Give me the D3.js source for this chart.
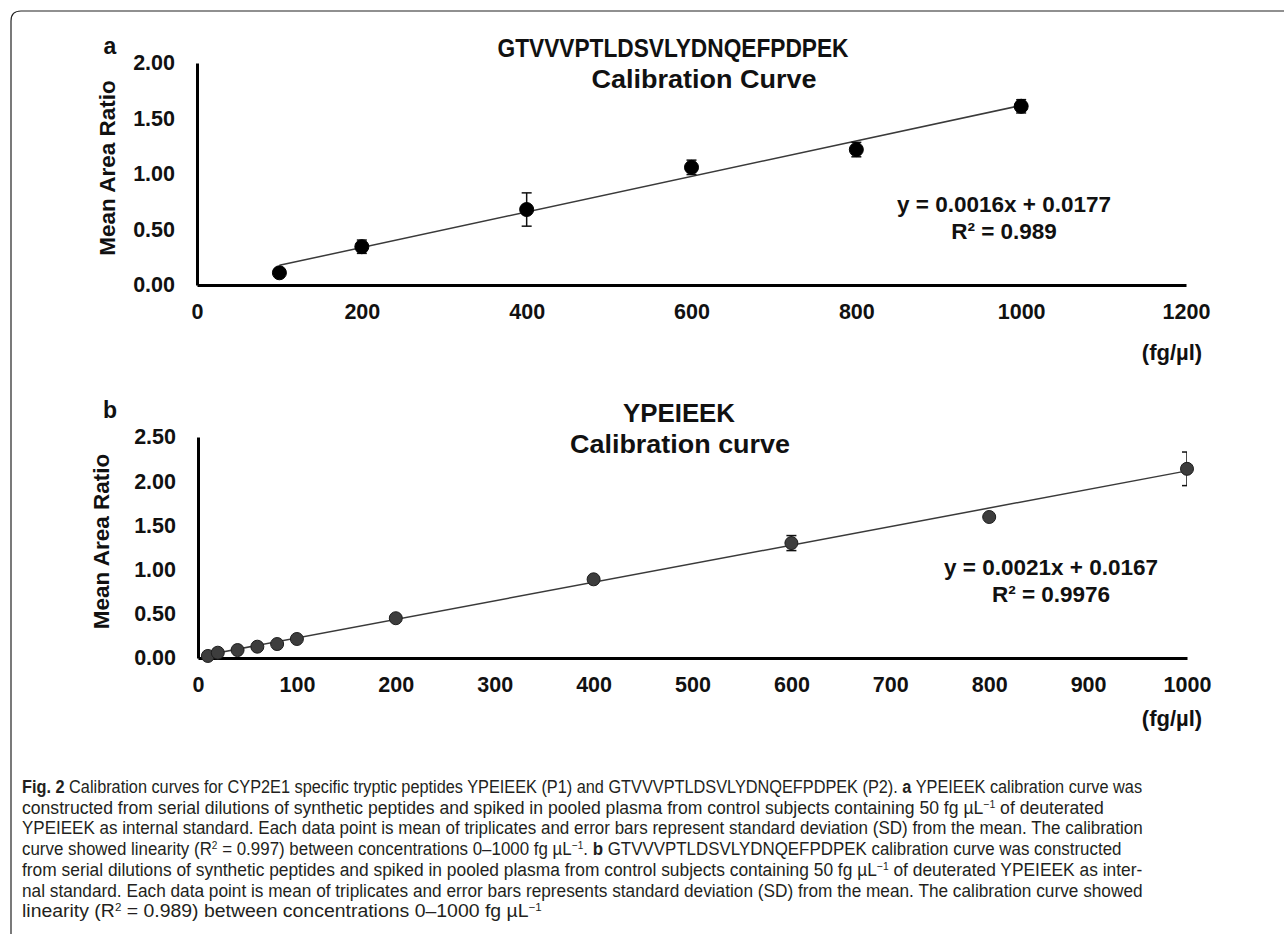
<!DOCTYPE html>
<html>
<head>
<meta charset="utf-8">
<script src="https://cdn.jsdelivr.net/npm/d3@7"></script>
<style>
  body { margin: 0; background: #fff; }
  svg { display: block; }
  .chart text { font-family: "Liberation Sans", Arial, sans-serif; font-weight: bold; fill: #111; }
  .caption text { font-family: "Liberation Sans", Arial, sans-serif; fill: #231f20; }
</style>
</head>
<body>
<svg id="fig" width="1284" height="934"></svg>
<script>
// panel a: GTVVVPTLDSVLYDNQEFPDPEK
const aConc = [100, 200, 400, 600, 800, 1000];
const aMean = [0.11, 0.345, 0.68, 1.06, 1.22, 1.61];
const aSD = [0.02, 0.06, 0.15, 0.065, 0.065, 0.06];
const aSlope = 0.0016, aIntercept = 0.0177;
const aXTicks = [0, 200, 400, 600, 800, 1000, 1200];
const aYTicks = [0, 0.5, 1, 1.5, 2];

// panel b: YPEIEEK
const bConc = [10, 20, 40, 60, 80, 100, 200, 400, 600, 800, 1000];
const bMean = [0.023, 0.06, 0.09, 0.128, 0.158, 0.215, 0.45, 0.89, 1.30, 1.595, 2.14];
const bSD = [0.01, 0.01, 0.01, 0.015, 0.015, 0.02, 0.02, 0.02, 0.085, 0.03, 0.19];
const bSlope = 0.0021, bIntercept = 0.0167;
const bXTicks = [0, 100, 200, 300, 400, 500, 600, 700, 800, 900, 1000];
const bYTicks = [0, 0.5, 1, 1.5, 2, 2.5];

const svg = d3.select("#fig");

// rounded frame, open on the right and bottom
svg.append("path")
    .attr("d", "M11,934 V21 Q11,11 21,11 H1284")
    .attr("fill", "none")
    .attr("stroke", "#222")
    .attr("stroke-width", 1.2);

function panel(o) {
    const g = svg.append("g").attr("class", "chart");
    const x = d3.scaleLinear().domain([0, o.xTicks[o.xTicks.length - 1]]).range(o.xRange);
    const y = d3.scaleLinear().domain([0, o.yTicks[o.yTicks.length - 1]]).range(o.yRange);

    // axes
    const yAxis = g.append("g")
        .attr("transform", `translate(${o.xRange[0]},0)`)
        .call(d3.axisLeft(y).tickValues(o.yTicks).tickFormat(d3.format(".2f")).tickSize(0).tickPadding(22));
    const xAxis = g.append("g")
        .attr("transform", `translate(0,${o.yRange[0]})`)
        .call(d3.axisBottom(x).tickValues(o.xTicks).tickFormat(d3.format("d")).tickSize(0).tickPadding(19));
    [yAxis, xAxis].forEach(ax => {
        ax.select(".domain").attr("stroke", "#000").attr("stroke-width", 3);
        ax.selectAll("text").style("font-size", "21.5px").style("font-family", "Liberation Sans, Arial, sans-serif")
            .style("font-weight", "bold").attr("fill", "#111");
    });

    // trendline over data range
    const ext = d3.extent(o.conc);
    g.append("line")
        .attr("x1", x(ext[0])).attr("y1", y(o.slope * ext[0] + o.intercept))
        .attr("x2", x(ext[1])).attr("y2", y(o.slope * ext[1] + o.intercept))
        .attr("stroke", "#3a3a3a").attr("stroke-width", 1.5);

    // error bars, clipped to plot area
    const clipId = "clip-" + o.name;
    g.append("clipPath").attr("id", clipId).append("rect")
        .attr("x", o.xRange[0]).attr("y", 0)
        .attr("width", o.xRange[1] - o.xRange[0]).attr("height", o.yRange[0] + 20);
    const eb = g.append("g").attr("clip-path", `url(#${clipId})`)
        .attr("stroke", "#111").attr("stroke-width", 1.5);
    o.conc.forEach((c, i) => {
        const cx = x(c), lo = y(o.mean[i] - o.sd[i]), hi = y(o.mean[i] + o.sd[i]);
        eb.append("line").attr("x1", cx).attr("x2", cx).attr("y1", lo).attr("y2", hi);
        eb.append("line").attr("x1", cx - 5).attr("x2", cx + 5).attr("y1", lo).attr("y2", lo);
        eb.append("line").attr("x1", cx - 5).attr("x2", cx + 5).attr("y1", hi).attr("y2", hi);
    });

    // markers
    g.append("g").selectAll("circle")
        .data(o.conc)
        .join("circle")
        .attr("cx", d => x(d))
        .attr("cy", (d, i) => y(o.mean[i]))
        .attr("r", o.r)
        .attr("fill", o.fill)
        .attr("stroke", o.stroke)
        .attr("stroke-width", 1);

    // panel letter
    g.append("text").attr("x", 110).attr("y", o.letterY)
        .attr("text-anchor", "middle").style("font-size", "23px").text(o.name);

    // y title
    g.append("text")
        .attr("transform", `translate(${o.yTitleX},${(o.yRange[0] + o.yRange[1]) / 2 - 6}) rotate(-90)`)
        .attr("text-anchor", "middle").attr("dy", "0.35em")
        .style("font-size", "22.5px").text("Mean Area Ratio");

    // chart title
    o.title.forEach(t => {
        g.append("text").attr("x", t.x).attr("y", t.y)
            .attr("text-anchor", "middle")
            .attr("textLength", t.w).attr("lengthAdjust", "spacingAndGlyphs")
            .style("font-size", "25px").text(t.text);
    });

    // equation
    g.append("text").attr("x", o.eqX).attr("y", o.eqY)
        .attr("text-anchor", "middle").style("font-size", "22.5px")
        .text(`y = ${o.slope.toFixed(4)}x + ${o.intercept.toFixed(4)}`);
    g.append("text").attr("x", o.eqX).attr("y", o.eqY + 27)
        .attr("text-anchor", "middle").style("font-size", "22.5px")
        .text(`R² = ${o.r2}`);

    // unit
    g.append("text").attr("x", 1172).attr("y", o.unitY)
        .attr("text-anchor", "middle").style("font-size", "22px").text("(fg/µl)");
}

panel({
    name: "a", conc: aConc, mean: aMean, sd: aSD, slope: aSlope, intercept: aIntercept, r2: "0.989",
    xTicks: aXTicks, yTicks: aYTicks, xRange: [197, 1186], yRange: [285, 63],
    r: 7, fill: "#000", stroke: "#000",
    letterY: 54, yTitleX: 107,
    title: [{ text: "GTVVVPTLDSVLYDNQEFPDPEK", x: 673, y: 57, w: 351 },
            { text: "Calibration Curve", x: 704, y: 88, w: 225 }],
    eqX: 1004, eqY: 212, unitY: 360
});

panel({
    name: "b", conc: bConc, mean: bMean, sd: bSD, slope: bSlope, intercept: bIntercept, r2: "0.9976",
    xTicks: bXTicks, yTicks: bYTicks, xRange: [198, 1187], yRange: [658, 437],
    r: 6.5, fill: "#3d3d3d", stroke: "#1e1e1e",
    letterY: 418, yTitleX: 101,
    title: [{ text: "YPEIEEK", x: 679, y: 422, w: 112 },
            { text: "Calibration curve", x: 680, y: 453, w: 220 }],
    eqX: 1051, eqY: 575, unitY: 726
});

// caption lines: segments of [text, style] where style b = bold, s = superscript
const captionLines = [
    [["Fig. 2", "b"], ["  Calibration curves for CYP2E1 specific tryptic peptides YPEIEEK (P1) and GTVVVPTLDSVLYDNQEFPDPEK (P2). "], ["a", "b"], [" YPEIEEK calibration curve was"]],
    [["constructed from serial dilutions of synthetic peptides and spiked in pooled plasma from control subjects containing 50 fg µL"], ["−1", "s"], [" of deuterated"]],
    [["YPEIEEK as internal standard. Each data point is mean of triplicates and error bars represent standard deviation (SD) from the mean. The calibration"]],
    [["curve showed linearity (R"], ["2", "s"], [" = 0.997) between concentrations 0–1000 fg µL"], ["−1", "s"], [". "], ["b", "b"], [" GTVVVPTLDSVLYDNQEFPDPEK calibration curve was constructed"]],
    [["from serial dilutions of synthetic peptides and spiked in pooled plasma from control subjects containing 50 fg µL"], ["−1", "s"], [" of deuterated YPEIEEK as inter-"]],
    [["nal standard. Each data point is mean of triplicates and error bars represents standard deviation (SD) from the mean. The calibration curve showed"]],
    [["linearity (R"], ["2", "s"], [" = 0.989) between concentrations 0–1000 fg µL"], ["−1", "s"]]
];
const captionWidths = [1121, 1082, 1121, 1100, 1121, 1121, 520];

// each line is squeezed horizontally to its measured width (Myriad-like condensed look)
const cap = svg.append("g").attr("class", "caption");
captionLines.forEach((segs, li) => {
    const t = cap.append("text")
        .attr("x", 0).attr("y", 0)
        .style("font-size", "18.5px");
    let shifted = false;
    segs.forEach(([s, st]) => {
        const ts = t.append("tspan").text(s);
        if (st === "b") ts.style("font-weight", "bold");
        if (st === "s") { ts.attr("dy", -6).style("font-size", "11px"); shifted = true; }
        else if (shifted) { ts.attr("dy", 6); shifted = false; }
    });
    const natural = t.node().getComputedTextLength();
    const sx = captionWidths[li] / natural;
    t.attr("transform", `translate(22,${793 + li * 20.7}) scale(${sx},1)`);
});
</script>
</body>
</html>
